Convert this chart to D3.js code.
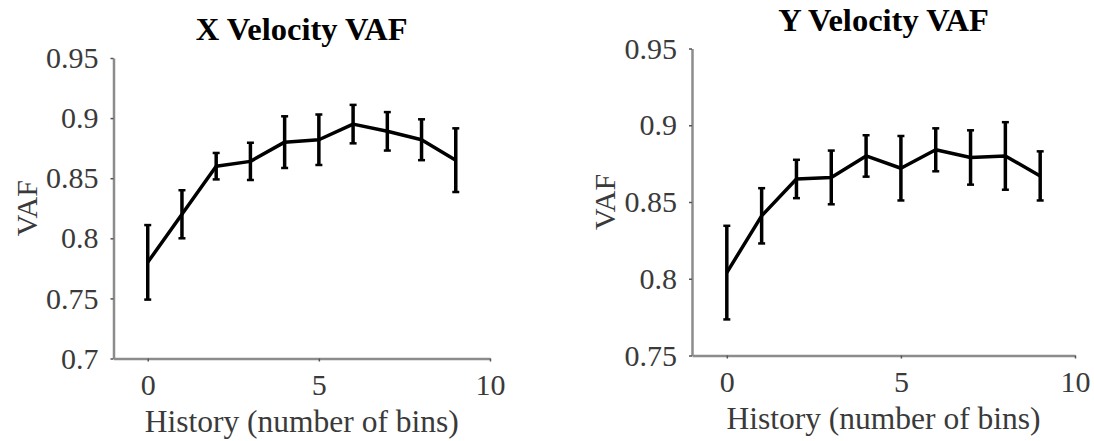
<!DOCTYPE html>
<html>
<head>
<meta charset="utf-8">
<script src="https://cdn.jsdelivr.net/npm/d3@7"></script>
<style>
  html, body { margin: 0; padding: 0; background: #fff; }
  svg { display: block; }
  text { font-family: "Liberation Serif", "Times New Roman", serif; }
</style>
</head>
<body>
<svg id="chart" width="1094" height="441"></svg>
<script>
// History lengths (number of bins) used by the decoder
const historyBins = [0, 1, 2, 3, 4, 5, 6, 7, 8, 9];

// Mean VAF and error-bar half widths for the X velocity decoder
const xVelocityVaf = [0.780, 0.820, 0.860, 0.864, 0.880, 0.882, 0.895, 0.889, 0.882, 0.865];
const xVelocityErr = [0.031, 0.020, 0.011, 0.0155, 0.0215, 0.021, 0.016, 0.016, 0.017, 0.0265];

// Mean VAF and error-bar half widths for the Y velocity decoder
const yVelocityVaf = [0.804, 0.841, 0.865, 0.866, 0.880, 0.872, 0.884, 0.879, 0.880, 0.867];
const yVelocityErr = [0.0305, 0.018, 0.0125, 0.0175, 0.0135, 0.021, 0.014, 0.0177, 0.022, 0.016];

// Axis ticks
const xTicks = [0, 5, 10];
const xVelocityTicks = [0.7, 0.75, 0.8, 0.85, 0.9, 0.95];
const yVelocityTicks = [0.75, 0.8, 0.85, 0.9, 0.95];

const panels = [
  {
    title: "X Velocity VAF",
    values: xVelocityVaf, errors: xVelocityErr,
    yDomain: [0.7, 0.95], yTicks: xVelocityTicks,
    left: 113.5, right: 490, top: 58, bottom: 358.5
  },
  {
    title: "Y Velocity VAF",
    values: yVelocityVaf, errors: yVelocityErr,
    yDomain: [0.75, 0.95], yTicks: yVelocityTicks,
    left: 692, right: 1075, top: 48.5, bottom: 355.5
  }
];

const svg = d3.select("#chart");
const axisColor = "#8c8c8c";
const textColor = "#3a3a3a";
const tickFmt = d => String(+d.toFixed(2));

panels.forEach(p => {
  const x = d3.scaleLinear().domain([-1, 10]).range([p.left, p.right]);
  const y = d3.scaleLinear().domain(p.yDomain).range([p.bottom, p.top]);
  const g = svg.append("g");

  // Y axis
  const yAxis = g.append("g")
    .attr("transform", `translate(${p.left},0)`)
    .call(d3.axisLeft(y).tickValues(p.yTicks).tickFormat(tickFmt)
      .tickSize(3).tickSizeOuter(0).tickPadding(12));
  yAxis.select(".domain").attr("stroke", axisColor).attr("stroke-width", 2.5);
  yAxis.selectAll(".tick line").attr("stroke", "#555").attr("stroke-width", 1.5);
  yAxis.selectAll(".tick text")
    .attr("fill", textColor).style("font-size", "30px");

  // X axis
  const xAxis = g.append("g")
    .attr("transform", `translate(0,${p.bottom})`)
    .call(d3.axisBottom(x).tickValues(xTicks).tickFormat(d3.format("d"))
      .tickSize(3).tickSizeOuter(0).tickPadding(12));
  xAxis.select(".domain").attr("stroke", axisColor).attr("stroke-width", 2.5);
  xAxis.selectAll(".tick line").attr("stroke", "#555").attr("stroke-width", 1.5);
  xAxis.selectAll(".tick text")
    .attr("fill", textColor).style("font-size", "30px");

  // Title
  g.append("text")
    .attr("x", (p.left + p.right) / 2)
    .attr("y", p.top - 18)
    .attr("text-anchor", "middle")
    .attr("fill", "#000")
    .style("font-size", "32.5px")
    .style("font-weight", "bold")
    .text(p.title);

  // Axis labels
  g.append("text")
    .attr("x", (p.left + p.right) / 2)
    .attr("y", p.bottom + 73)
    .attr("text-anchor", "middle")
    .attr("fill", textColor)
    .style("font-size", "31.5px")
    .text("History (number of bins)");

  g.append("text")
    .attr("transform", `translate(${p.left - 77},${(p.top + p.bottom) / 2}) rotate(-90)`)
    .attr("text-anchor", "middle")
    .attr("fill", textColor)
    .style("font-size", "30px")
    .text("VAF");

  const pts = historyBins.map((h, i) => ({ h, v: p.values[i], e: p.errors[i] }));

  // Mean curve
  g.append("path")
    .datum(pts)
    .attr("fill", "none")
    .attr("stroke", "#000")
    .attr("stroke-width", 3.5)
    .attr("stroke-linejoin", "round")
    .attr("d", d3.line().x(d => x(d.h)).y(d => y(d.v)));

  // Error bars
  const bars = g.append("g").attr("stroke", "#000").attr("stroke-width", 3.5);
  bars.selectAll("line.err").data(pts).join("line")
    .attr("class", "err")
    .attr("x1", d => x(d.h)).attr("x2", d => x(d.h))
    .attr("y1", d => y(d.v - d.e)).attr("y2", d => y(d.v + d.e));
  ["top", "bot"].forEach(k => {
    bars.selectAll("line.cap-" + k).data(pts).join("line")
      .attr("class", "cap-" + k)
      .attr("x1", d => x(d.h) - 3.5).attr("x2", d => x(d.h) + 3.5)
      .attr("y1", d => y(k === "top" ? d.v + d.e : d.v - d.e))
      .attr("y2", d => y(k === "top" ? d.v + d.e : d.v - d.e))
      .attr("stroke-width", 2.5);
  });
});
</script>
</body>
</html>
